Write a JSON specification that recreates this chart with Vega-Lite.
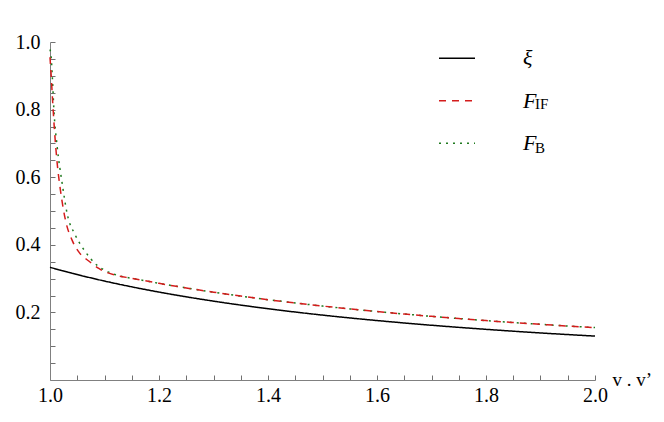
{
  "$schema": "https://vega.github.io/schema/vega-lite/v6.json",
  "width": 545,
  "height": 338,
  "autosize": {"type": "none"},
  "padding": {"left": 50, "top": 42, "right": 69, "bottom": 42},
  "background": "white",
  "config": {
    "view": {"stroke": null},
    "axis": {
      "labelFont": "Liberation Serif",
      "labelFontSize": 20,
      "labelColor": "black",
      "domainColor": "#808080",
      "tickColor": "#707070",
      "tickRound": true,
      "grid": false,
      "labelOverlap": false,
      "labelFlush": false
    }
  },
  "datasets": {
    "curves": [
      {"series": "xi", "v": 1.0, "y": 0.3333},
      {"series": "xi", "v": 1.05, "y": 0.3119},
      {"series": "xi", "v": 1.1, "y": 0.2928},
      {"series": "xi", "v": 1.15, "y": 0.2756},
      {"series": "xi", "v": 1.2, "y": 0.2601},
      {"series": "xi", "v": 1.25, "y": 0.2461},
      {"series": "xi", "v": 1.3, "y": 0.2333},
      {"series": "xi", "v": 1.4, "y": 0.2109},
      {"series": "xi", "v": 1.5, "y": 0.1920},
      {"series": "xi", "v": 1.6, "y": 0.1759},
      {"series": "xi", "v": 1.7, "y": 0.1620},
      {"series": "xi", "v": 1.8, "y": 0.1499},
      {"series": "xi", "v": 1.9, "y": 0.1392},
      {"series": "xi", "v": 2.0, "y": 0.1299},
      {"series": "FB", "v": 1.0, "y": 0.978},
      {"series": "FB", "v": 1.0022, "y": 0.955},
      {"series": "FB", "v": 1.0045, "y": 0.89},
      {"series": "FB", "v": 1.007, "y": 0.804},
      {"series": "FB", "v": 1.0132, "y": 0.69},
      {"series": "FB", "v": 1.0224, "y": 0.581},
      {"series": "FB", "v": 1.0315, "y": 0.492},
      {"series": "FB", "v": 1.0467, "y": 0.428},
      {"series": "FB", "v": 1.0651, "y": 0.379},
      {"series": "FB", "v": 1.0865, "y": 0.339},
      {"series": "FB", "v": 1.1017, "y": 0.324},
      {"series": "FB", "v": 1.1324, "y": 0.306},
      {"series": "FB", "v": 1.15, "y": 0.301},
      {"series": "FB", "v": 1.2, "y": 0.286},
      {"series": "FB", "v": 1.25, "y": 0.2724},
      {"series": "FB", "v": 1.3, "y": 0.2598},
      {"series": "FB", "v": 1.35, "y": 0.2483},
      {"series": "FB", "v": 1.4, "y": 0.2377},
      {"series": "FB", "v": 1.45, "y": 0.2279},
      {"series": "FB", "v": 1.5, "y": 0.2188},
      {"series": "FB", "v": 1.55, "y": 0.2104},
      {"series": "FB", "v": 1.6, "y": 0.2025},
      {"series": "FB", "v": 1.65, "y": 0.1952},
      {"series": "FB", "v": 1.7, "y": 0.1883},
      {"series": "FB", "v": 1.75, "y": 0.1819},
      {"series": "FB", "v": 1.8, "y": 0.1758},
      {"series": "FB", "v": 1.85, "y": 0.1701},
      {"series": "FB", "v": 1.9, "y": 0.1648},
      {"series": "FB", "v": 1.95, "y": 0.1597},
      {"series": "FB", "v": 2.0, "y": 0.155},
      {"series": "FIF", "v": 1.0, "y": 0.955},
      {"series": "FIF", "v": 1.002, "y": 0.905},
      {"series": "FIF", "v": 1.004, "y": 0.848},
      {"series": "FIF", "v": 1.0082, "y": 0.739},
      {"series": "FIF", "v": 1.0132, "y": 0.641},
      {"series": "FIF", "v": 1.0192, "y": 0.561},
      {"series": "FIF", "v": 1.0284, "y": 0.473},
      {"series": "FIF", "v": 1.0407, "y": 0.413},
      {"series": "FIF", "v": 1.0528, "y": 0.379},
      {"series": "FIF", "v": 1.0711, "y": 0.352},
      {"series": "FIF", "v": 1.0895, "y": 0.33},
      {"series": "FIF", "v": 1.12, "y": 0.31},
      {"series": "FIF", "v": 1.15, "y": 0.301},
      {"series": "FIF", "v": 1.2, "y": 0.286},
      {"series": "FIF", "v": 1.25, "y": 0.2724},
      {"series": "FIF", "v": 1.3, "y": 0.2598},
      {"series": "FIF", "v": 1.35, "y": 0.2483},
      {"series": "FIF", "v": 1.4, "y": 0.2377},
      {"series": "FIF", "v": 1.45, "y": 0.2279},
      {"series": "FIF", "v": 1.5, "y": 0.2188},
      {"series": "FIF", "v": 1.55, "y": 0.2104},
      {"series": "FIF", "v": 1.6, "y": 0.2025},
      {"series": "FIF", "v": 1.65, "y": 0.1952},
      {"series": "FIF", "v": 1.7, "y": 0.1883},
      {"series": "FIF", "v": 1.75, "y": 0.1819},
      {"series": "FIF", "v": 1.8, "y": 0.1758},
      {"series": "FIF", "v": 1.85, "y": 0.1701},
      {"series": "FIF", "v": 1.9, "y": 0.1648},
      {"series": "FIF", "v": 1.95, "y": 0.1597},
      {"series": "FIF", "v": 2.0, "y": 0.155}
    ],
    "subs": [
      {"s": "none"},
      {"s": "IF"},
      {"s": "B"}
    ]
  },
  "layer": [
    {
      "data": {"name": "curves"},
      "mark": {"type": "line", "interpolate": "monotone", "strokeWidth": 1.5},
      "encoding": {
        "x": {
          "field": "v", "type": "quantitative",
          "scale": {"domain": [1, 2], "nice": false, "zero": false},
          "axis": {
            "values": [1.0, 1.05, 1.1, 1.15, 1.2, 1.25, 1.3, 1.35, 1.4, 1.45, 1.5, 1.55, 1.6, 1.65, 1.7, 1.75, 1.8, 1.85, 1.9, 1.95, 2.0],
            "labelExpr": "abs(datum.value*5 - round(datum.value*5)) < 0.001 ? format(datum.value, '.1f') : ''",
            "labelFont": "Liberation Serif",
            "labelFontSize": 20,
            "ticks": true,
            "tickSize": -5,
            "tickWidth": 1,
            "labelPadding": 10,
            "title": "v . v’",
            "titleFont": "Liberation Serif",
            "titleFontSize": 19,
            "titleFontWeight": "normal",
            "titleColor": "black",
            "titleX": 562,
            "titleY": 5,
            "titleAlign": "left",
            "titleBaseline": "alphabetic"
          }
        },
        "y": {
          "field": "y", "type": "quantitative",
          "scale": {"domain": [0, 1], "nice": false},
          "axis": {
            "values": [0.05, 0.1, 0.15, 0.2, 0.25, 0.3, 0.35, 0.4, 0.45, 0.5, 0.55, 0.6, 0.65, 0.7, 0.75, 0.8, 0.85, 0.9, 0.95, 1.0],
            "labelExpr": "abs(datum.value*5 - round(datum.value*5)) < 0.001 ? format(datum.value, '.1f') : ''",
            "labelFont": "Liberation Serif",
            "labelFontSize": 20,
            "ticks": true,
            "tickSize": -5,
            "tickWidth": 1,
            "labelPadding": 15,
            "title": null
          }
        },
        "color": {
          "field": "series", "type": "nominal",
          "scale": {"domain": ["xi", "FIF", "FB"], "range": ["#000000", "#d41c1c", "#1f7a1f"]},
          "legend": {
            "orient": "none",
            "legendX": 388,
            "legendY": -2.7,
            "title": null,
            "padding": 0,
            "symbolType": "stroke",
            "symbolSize": 1296,
            "symbolStrokeWidth": 1.5,
            "labelOffset": 47,
            "rowPadding": 12.5,
            "labelFont": "Liberation Serif",
            "labelFontSize": 22,
            "labelFontStyle": "italic",
            "labelColor": "black",
            "labelBaseline": "middle",
            "labelExpr": "datum.label == 'xi' ? 'ξ' : 'F'"
          }
        },
        "strokeDash": {
          "field": "series", "type": "nominal",
          "scale": {"domain": ["xi", "FIF", "FB"], "range": [[1, 0], [7, 6], [2, 5]]}
        }
      }
    },
    {
      "data": {"name": "subs"},
      "mark": {"type": "point", "opacity": 0},
      "encoding": {
        "shape": {
          "field": "s", "type": "nominal",
          "scale": {"domain": ["none", "IF", "B"]},
          "legend": {
            "orient": "none",
            "legendX": 462,
            "legendY": 11,
            "title": null,
            "padding": 0,
            "symbolSize": 4,
            "symbolOpacity": 0,
            "labelOffset": 8,
            "rowPadding": 27.5,
            "labelFont": "Liberation Serif",
            "labelFontSize": 15,
            "labelColor": "black",
            "labelBaseline": "middle",
            "labelExpr": "datum.label == 'none' ? ' ' : datum.label"
          }
        }
      }
    }
  ]
}
